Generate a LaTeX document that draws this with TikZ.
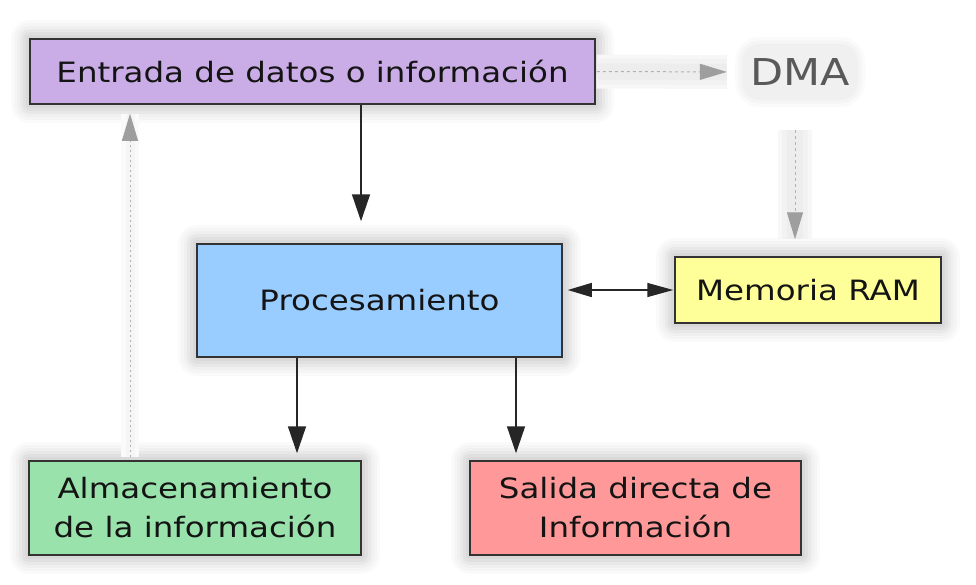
\documentclass[tikz,border=0pt]{standalone}
\usepackage{fontspec}
\setmainfont{DejaVu Sans}[FakeStretch=1.16]
\usetikzlibrary{arrows.meta}

\definecolor{lila}{RGB}{202,172,230}
\definecolor{celeste}{RGB}{153,204,255}
\definecolor{amarillo}{RGB}{255,255,153}
\definecolor{verde}{RGB}{153,226,172}
\definecolor{rosa}{RGB}{255,153,153}

\tikzset{
  sombra/.style={
    preaction={draw=black!2, line width=38pt, line join=round},
    preaction={draw=black!4, line width=32pt, line join=round},
    preaction={draw=black!6, line width=26pt, line join=round},
    preaction={draw=black!9, line width=20pt, line join=round},
    preaction={draw=black!12, line width=14pt, line join=round},
    preaction={draw=black!15, line width=8pt, line join=round}},
  caja/.style={sombra, draw=black!80, line width=1.5pt, inner sep=0pt, align=center,
    text=black!92, font=\fontsize{28}{39}\selectfont},
  flecha/.style={line width=1.5pt, black!85, -{Triangle[length=27pt,width=18pt]}},
  gris/.style={line width=1pt, black!30, dash pattern=on 3pt off 3pt,
    -{Triangle[length=27pt,width=16pt,color=black!38]},
    preaction={draw=black!3, line width=34pt, solid, -},
    preaction={draw=black!5, line width=26pt, solid, -},
    preaction={draw=black!7, line width=16pt, solid, -}},
}

\begin{document}
\begin{tikzpicture}[x=1pt,y=-1pt]
  \useasboundingbox (0,0) rectangle (976,584);

  \def\xa{361}
  \def\xb{297}
  \def\xc{516}
  \def\xd{795}
  \def\xe{130}

  \node[caja, fill=lila, minimum width=565, minimum height=65] (entrada) at (312.5,71.5) {Entrada de datos o información};
  \node[caja, fill=celeste, minimum width=365, minimum height=113] (proc) at (379.5,300.5) {Procesamiento};
  \node[caja, fill=amarillo, minimum width=266, minimum height=66] (mem) at (808,290) {Memoria RAM};
  \node[caja, fill=verde, minimum width=332, minimum height=94] (alm) at (195,508) {Almacenamiento\\de la información};
  \node[caja, fill=rosa, minimum width=331, minimum height=94] (sal) at (635.5,508) {Salida directa de\\Información};
  \node[fill=black!6, rounded corners=18pt, minimum width=116, minimum height=56, text=black!65,
    font=\fontsize{37}{44}\selectfont,
    preaction={draw=black!2, line width=14pt, rounded corners=18pt},
    preaction={draw=black!4, line width=7pt, rounded corners=18pt}] (dma) at (800,72) {DMA};

  \draw[flecha] (entrada.south -| \xa,0) -- (proc.north -| \xa,0) [shorten >=22pt];
  \draw[flecha] (proc.south -| \xb,0) -- (alm.north -| \xb,0) [shorten >=7pt];
  \draw[flecha] (proc.south -| \xc,0) -- (sal.north -| \xc,0) [shorten >=7pt];
  \draw[line width=1.5pt, black!85, {Triangle[length=24pt,width=14pt]}-{Triangle[length=26pt,width=14pt]},
    shorten <=5pt, shorten >=1pt] (proc.east |- mem) -- (mem.west);

  \draw[gris] (entrada.east) -- (dma.west) [shorten <=1pt, shorten >=15pt];
  \draw[gris] (dma.south -| \xd,0) -- (mem.north -| \xd,0) [shorten <=30pt, shorten >=17pt];
  \draw[line width=1pt, black!30, dash pattern=on 2pt off 3pt,
    -{Triangle[length=27pt,width=16pt,color=black!38]},
    preaction={draw=black!2, line width=18pt, solid, -},
    preaction={draw=black!4, line width=9pt, solid, -}]
    (alm.north -| \xe,0) -- (entrada.south -| \xe,0) [shorten <=3pt, shorten >=9pt];
\end{tikzpicture}
\end{document}
